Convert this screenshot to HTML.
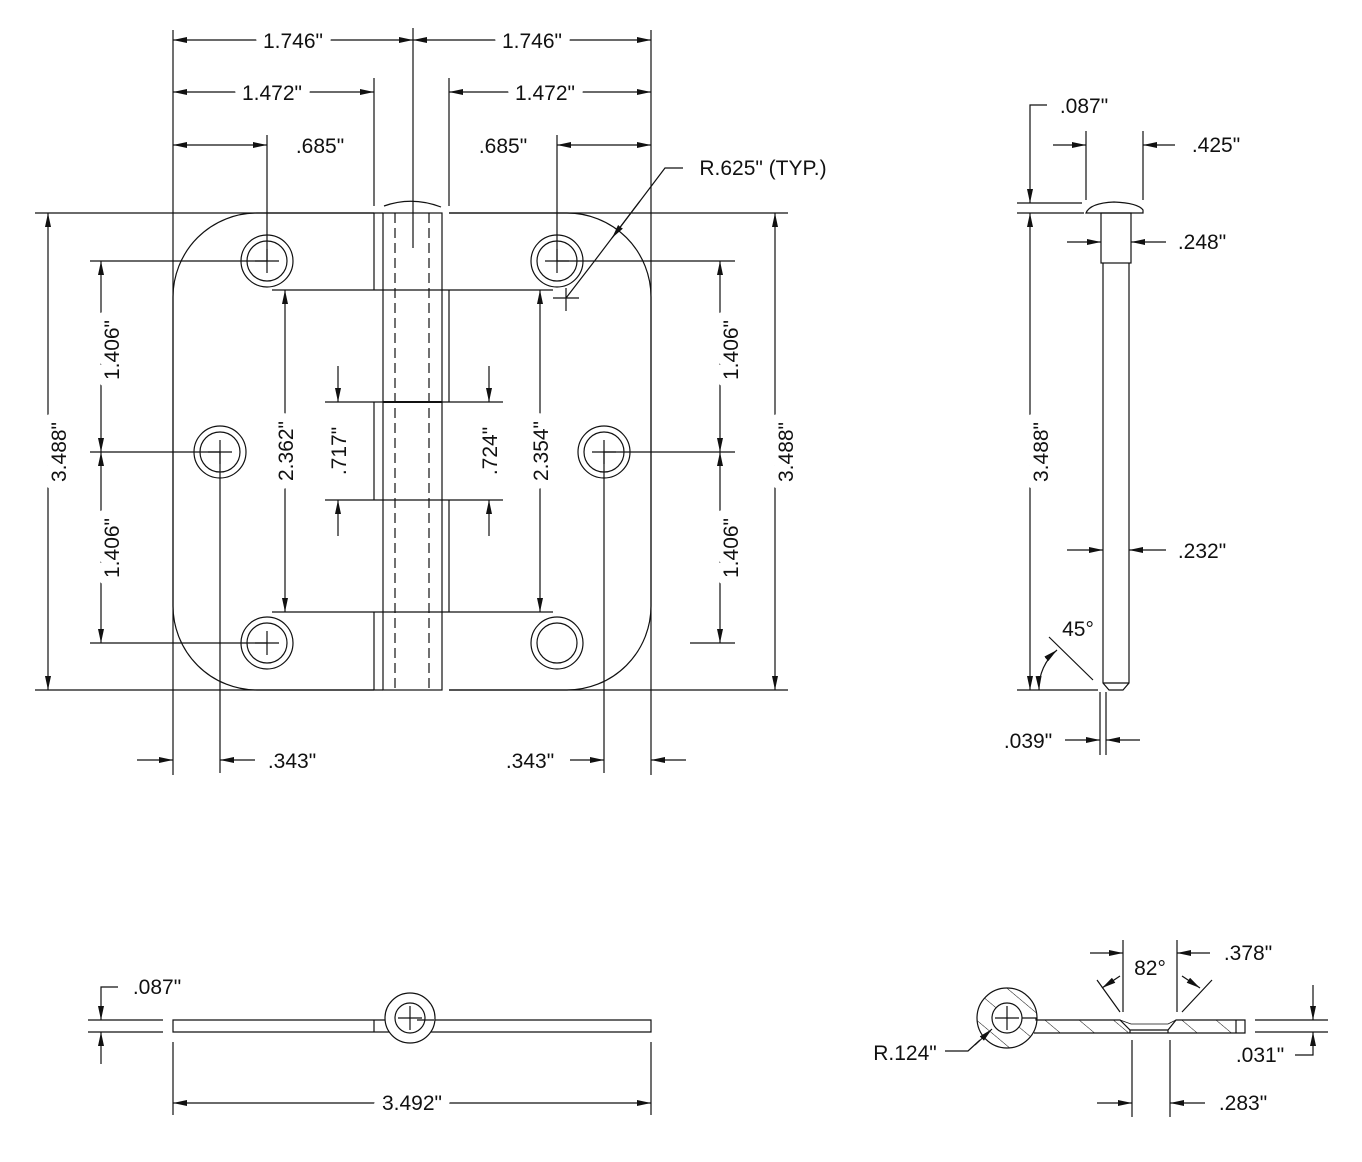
<!DOCTYPE html>
<html><head><meta charset="utf-8"><style>
html,body{margin:0;padding:0;background:#fff;}
svg{display:block;}
text{font-family:"Liberation Sans",Arial,sans-serif;font-size:21px;fill:#111;}
</style></head><body>
<svg width="1362" height="1162" viewBox="0 0 1362 1162" xmlns="http://www.w3.org/2000/svg">
<defs>
<marker id="a" viewBox="0 0 14 6" refX="14" refY="3" markerWidth="14" markerHeight="6" markerUnits="userSpaceOnUse" orient="auto-start-reverse"><path d="M0,0 L14,3 L0,6 Z" fill="#111"/></marker>
<pattern id="h" patternUnits="userSpaceOnUse" width="22" height="22" patternTransform="rotate(-50)"><line x1="0" y1="0" x2="0" y2="22" stroke="#111" stroke-width="1"/></pattern>
</defs>
<g stroke="#111" stroke-width="1.2" fill="none">
<path d="M374,213 H257 A84,84 0 0 0 173,297 V606 A84,84 0 0 0 257,690 H374"/>
<path d="M374,213 V290 M374,402 V500 M374,612 V690"/>
<path d="M449,213 H567 A84,84 0 0 1 651,297 V606 A84,84 0 0 1 567,690 H449"/>
<path d="M449,290 V402 M449,500 V612"/>
<rect x="383" y="213" width="59" height="477"/>
<path d="M395,213 V690 M429,213 V690" stroke-dasharray="10,5"/>
<path d="M384,206 Q412,196 441,207"/>
<path d="M383,402 H442" stroke-width="2"/>
<path d="M173,30 V775 M651,30 V775 M413,28 V248 M374,78 V206 M449,78 V206"/>
<path d="M267,135 V261 M557,135 V261 M220,452 V773 M604,452 V773"/>
<path d="M35,213 H383 M449,213 H788 M35,690 H383 M449,690 H788"/>
<path d="M90,261 H267 M90,452 H220 M90,643 H267"/>
<path d="M557,261 H735 M604,452 H735 M690,643 H735"/>
<path d="M272,290 H553 M272,612 H553 M325,402 H383 M442,402 H503 M325,500 H503"/>
<g>
<circle cx="267" cy="261" r="26"/><circle cx="267" cy="261" r="20"/><path d="M255,261 H279 M267,249 V273"/>
<circle cx="220" cy="452" r="26"/><circle cx="220" cy="452" r="20"/><path d="M208,452 H232 M220,440 V464"/>
<circle cx="267" cy="643" r="26"/><circle cx="267" cy="643" r="20"/><path d="M255,643 H279 M267,631 V655"/>
<circle cx="557" cy="261" r="26"/><circle cx="557" cy="261" r="20"/><path d="M545,261 H569 M557,249 V273"/>
<circle cx="604" cy="452" r="26"/><circle cx="604" cy="452" r="20"/><path d="M592,452 H616 M604,440 V464"/>
<circle cx="557" cy="643" r="26"/><circle cx="557" cy="643" r="20"/>
</g>
<line x1="173" y1="40" x2="413" y2="40" marker-start="url(#a)" marker-end="url(#a)"/>
<line x1="413" y1="40" x2="651" y2="40" marker-start="url(#a)" marker-end="url(#a)"/>
<line x1="173" y1="92" x2="374" y2="92" marker-start="url(#a)" marker-end="url(#a)"/>
<line x1="449" y1="92" x2="651" y2="92" marker-start="url(#a)" marker-end="url(#a)"/>
<line x1="173" y1="145" x2="267" y2="145" marker-start="url(#a)" marker-end="url(#a)"/>
<line x1="557" y1="145" x2="651" y2="145" marker-start="url(#a)" marker-end="url(#a)"/>
<line x1="48" y1="213" x2="48" y2="690" marker-start="url(#a)" marker-end="url(#a)"/>
<line x1="101" y1="261" x2="101" y2="452" marker-start="url(#a)" marker-end="url(#a)"/>
<line x1="101" y1="452" x2="101" y2="643" marker-start="url(#a)" marker-end="url(#a)"/>
<line x1="720" y1="261" x2="720" y2="452" marker-start="url(#a)" marker-end="url(#a)"/>
<line x1="720" y1="452" x2="720" y2="643" marker-start="url(#a)" marker-end="url(#a)"/>
<line x1="775" y1="213" x2="775" y2="690" marker-start="url(#a)" marker-end="url(#a)"/>
<line x1="285" y1="290" x2="285" y2="612" marker-start="url(#a)" marker-end="url(#a)"/>
<line x1="540" y1="290" x2="540" y2="612" marker-start="url(#a)" marker-end="url(#a)"/>
<line x1="338" y1="366" x2="338" y2="402" marker-end="url(#a)"/>
<line x1="338" y1="536" x2="338" y2="500" marker-end="url(#a)"/>
<line x1="489" y1="366" x2="489" y2="402" marker-end="url(#a)"/>
<line x1="489" y1="536" x2="489" y2="500" marker-end="url(#a)"/>
<line x1="137" y1="760" x2="173" y2="760" marker-end="url(#a)"/>
<line x1="255" y1="760" x2="220" y2="760" marker-end="url(#a)"/>
<line x1="570" y1="760" x2="604" y2="760" marker-end="url(#a)"/>
<line x1="686" y1="760" x2="651" y2="760" marker-end="url(#a)"/>
<path d="M683,168 H665 L593,263"/>
<line x1="640" y1="201" x2="612" y2="238" marker-end="url(#a)"/>
<path d="M593,263 L566,298 M553,298 H579 M566,288 V311"/>

<path d="M1086,213 Q1090,203 1114,202 Q1138,203 1143,210 V213 H1086 Z"/>
<rect x="1101" y="213" width="30" height="50"/>
<path d="M1103,263 V683 L1109,690 H1123 L1129,683 V263"/>
<path d="M1103,683 H1129"/>
<path d="M1017,203 H1082 M1017,213 H1084 M1017,690 H1098 M1086,131 V200 M1143,131 V200 M1100,692 V755 M1106,692 V755"/>
<path d="M1047,105 H1030 V203" marker-end="url(#a)"/>
<line x1="1030" y1="690" x2="1030" y2="213" marker-start="url(#a)" marker-end="url(#a)"/>
<line x1="1053" y1="145" x2="1086" y2="145" marker-end="url(#a)"/>
<line x1="1175" y1="145" x2="1143" y2="145" marker-end="url(#a)"/>
<line x1="1067" y1="242" x2="1101" y2="242" marker-end="url(#a)"/>
<line x1="1166" y1="242" x2="1131" y2="242" marker-end="url(#a)"/>
<line x1="1067" y1="550" x2="1103" y2="550" marker-end="url(#a)"/>
<line x1="1166" y1="550" x2="1129" y2="550" marker-end="url(#a)"/>
<line x1="1065" y1="740" x2="1100" y2="740" marker-end="url(#a)"/>
<line x1="1140" y1="740" x2="1106" y2="740" marker-end="url(#a)"/>
<path d="M1049,637 L1093,680"/>
<path d="M1039,690 A50,50 0 0 1 1057,650" marker-start="url(#a)" marker-end="url(#a)"/>

<path d="M173,1020 H651 V1032 H173 Z M374,1020 V1032"/>
<circle cx="410" cy="1018" r="25" fill="#fff"/>
<path d="M417,1020 H434"/>
<circle cx="410" cy="1018" r="15"/>
<path d="M398,1018 H422 M410,1006 V1030"/>
<path d="M88,1020 H163 M88,1032 H163 M173,1042 V1115 M651,1042 V1115"/>
<path d="M118,987 H101 V1020" marker-end="url(#a)"/>
<line x1="101" y1="1064" x2="101" y2="1032" marker-end="url(#a)"/>
<line x1="173" y1="1103" x2="651" y2="1103" marker-start="url(#a)" marker-end="url(#a)"/>

<circle cx="1007" cy="1018" r="30" fill="url(#h)"/>
<path d="M1033,1020 H1120 L1129,1028 V1033 H1030 Z" fill="url(#h)" stroke="none"/>
<path d="M1172,1020 H1245 V1033 H1166 V1028 Z" fill="url(#h)" stroke="none"/>
<circle cx="1007" cy="1018" r="15" fill="#fff"/>
<path d="M1022,1018 H1036 V1020 H1120 L1130,1030 H1168 L1176,1020 H1245 V1033 H1034 M1130,1030 V1033 M1168,1030 V1033"/>
<path d="M1120,1020 L1131,1024 H1168 L1176,1020" stroke-width="0.8"/>
<path d="M1236,1020 V1033"/>
<path d="M995,1018 H1019 M1007,1006 V1030"/>
<path d="M1123,940 V1012 M1177,940 V1012 M1120,1012 L1097,980 M1182,1012 L1212,980"/>
<line x1="1090" y1="953" x2="1123" y2="953" marker-end="url(#a)"/>
<line x1="1210" y1="953" x2="1177" y2="953" marker-end="url(#a)"/>
<line x1="1120" y1="976" x2="1102" y2="988" marker-end="url(#a)"/>
<line x1="1182" y1="976" x2="1200" y2="988" marker-end="url(#a)"/>
<path d="M1255,1020 H1328 M1255,1032 H1328 M1132,1040 V1117 M1170,1040 V1117"/>
<line x1="1313" y1="985" x2="1313" y2="1020" marker-end="url(#a)"/>
<path d="M1295,1055 H1313 V1032" marker-end="url(#a)"/>
<line x1="1097" y1="1103" x2="1132" y2="1103" marker-end="url(#a)"/>
<line x1="1205" y1="1103" x2="1170" y2="1103" marker-end="url(#a)"/>
<path d="M945,1051 H968 L980,1040"/>
<line x1="975" y1="1045" x2="992" y2="1029" marker-end="url(#a)"/>
</g>
<g stroke="#fff" stroke-width="18" stroke-linejoin="round" paint-order="stroke" text-anchor="middle">
<text x="293" y="48">1.746"</text>
<text x="532" y="48">1.746"</text>
<text x="272" y="100">1.472"</text>
<text x="545" y="100">1.472"</text>
<text x="320" y="153">.685"</text>
<text x="503" y="153">.685"</text>
<text x="763" y="175">R.625" (TYP.)</text>
<text x="292" y="768">.343"</text>
<text x="530" y="768">.343"</text>
<text transform="translate(66,452) rotate(-90)">3.488"</text>
<text transform="translate(119,350) rotate(-90)">1.406"</text>
<text transform="translate(119,548) rotate(-90)">1.406"</text>
<text transform="translate(738,350) rotate(-90)">1.406"</text>
<text transform="translate(738,548) rotate(-90)">1.406"</text>
<text transform="translate(793,452) rotate(-90)">3.488"</text>
<text transform="translate(293,451) rotate(-90)">2.362"</text>
<text transform="translate(548,451) rotate(-90)">2.354"</text>
<text transform="translate(346,451) rotate(-90)">.717"</text>
<text transform="translate(497,451) rotate(-90)">.724"</text>
<text transform="translate(1048,452) rotate(-90)">3.488"</text>
<text x="1084" y="113">.087"</text>
<text x="1216" y="152">.425"</text>
<text x="1202" y="249">.248"</text>
<text x="1202" y="558">.232"</text>
<text x="1078" y="636">45°</text>
<text x="1028" y="748">.039"</text>
<text x="157" y="994">.087"</text>
<text x="412" y="1110">3.492"</text>
<text x="1150" y="975">82°</text>
<text x="1248" y="960">.378"</text>
<text x="1260" y="1062">.031"</text>
<text x="1243" y="1110">.283"</text>
<text x="905" y="1060">R.124"</text>
</g>
</svg>
</body></html>
